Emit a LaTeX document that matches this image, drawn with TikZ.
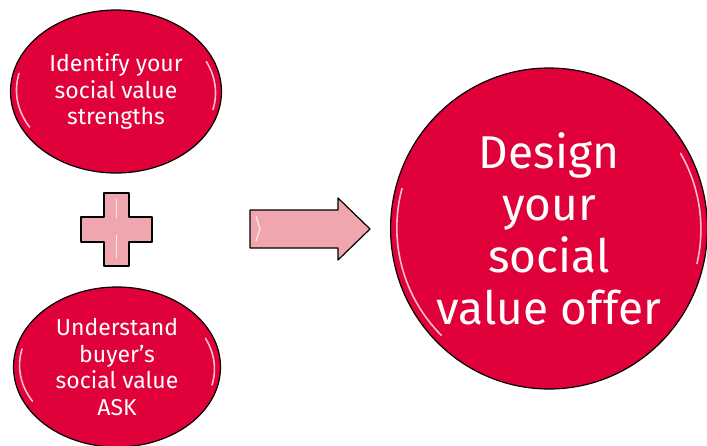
\documentclass[tikz,border=0pt]{standalone}
\usepackage{fontspec}
\setmainfont{Fira Sans}
\usepackage{xcolor}
\usetikzlibrary{shapes.geometric, positioning, calc}

\definecolor{svred}{HTML}{E0003A}
\definecolor{svpink}{HTML}{EFA6AE}

\begin{document}
\begin{tikzpicture}[x=1pt, y=-1pt,
  bubble/.style={ellipse, draw=black, line width=1.2pt, fill=svred, text=white,
    inner sep=0pt, align=center},
  small/.style={font=\fontsize{23}{26.6}\selectfont},
  big/.style={font=\fontsize{46}{52}\selectfont},
  shine/.style={white, line width=1.6pt, opacity=0.75, line cap=round},
  symbolshape/.style={draw=black, line width=1.2pt, fill=svpink, line join=round}]
\useasboundingbox (0,0) rectangle (707,445);

\node[bubble, small, minimum width=211pt, minimum height=163pt] (strengths) at (116,91.5)
  {Identify your\\social value\\strengths};
\node[bubble, small, minimum width=207pt, minimum height=160pt] (ask) at (117,367)
  {Understand\\buyer’s\\social value\\ASK};
\node[bubble, big, minimum width=316pt, minimum height=321pt] (offer) at (549,228.5)
  {Design\\your\\social\\value offer};

% gloss on the bubbles
\draw[shine] ($(strengths.center)+(-97,-18)$) arc[start angle=193, end angle=150, x radius=98, y radius=74];
\draw[shine] ($(strengths.center)+(97,18)$) arc[start angle=13, end angle=-25, x radius=98, y radius=74];
\draw[shine] ($(ask.center)+(-95,-18)$) arc[start angle=193, end angle=150, x radius=96, y radius=72];
\draw[shine] ($(ask.center)+(95,18)$) arc[start angle=13, end angle=-25, x radius=96, y radius=72];
\draw[shine] ($(offer.center)+(-147,-40)$) arc[start angle=195, end angle=135, radius=152];
\draw[shine] ($(offer.center)+(148,35)$) arc[start angle=13, end angle=-30, radius=152];

% plus
\coordinate (plus) at (116.5,229.5);
\draw[symbolshape] ($(plus)+(-12.5,-36.5)$) -- ++(25,0) -- ++(0,24) -- ++(23,0) -- ++(0,25)
  -- ++(-23,0) -- ++(0,24) -- ++(-25,0) -- ++(0,-24) -- ++(-23,0) -- ++(0,-25)
  -- ++(23,0) -- cycle;
\draw[shine, line width=1.2pt] ($(plus)+(0,-30)$) -- ++(0,18);
\draw[shine, line width=1.2pt] ($(plus)+(0,6)$) -- ++(0,22);

% arrow
\coordinate (arrowtail) at (250,229);
\draw[symbolshape] ($(arrowtail)+(0,-19)$) -- ++(88,0) -- ++(0,-12) -- ++(32,31)
  -- ++(-32,31) -- ++(0,-12) -- ++(-88,0) -- cycle;
\draw[shine, line width=1.2pt] ($(arrowtail)+(6,-13)$) -- ++(4,13) -- ++(-4,12);
\end{tikzpicture}
\end{document}
